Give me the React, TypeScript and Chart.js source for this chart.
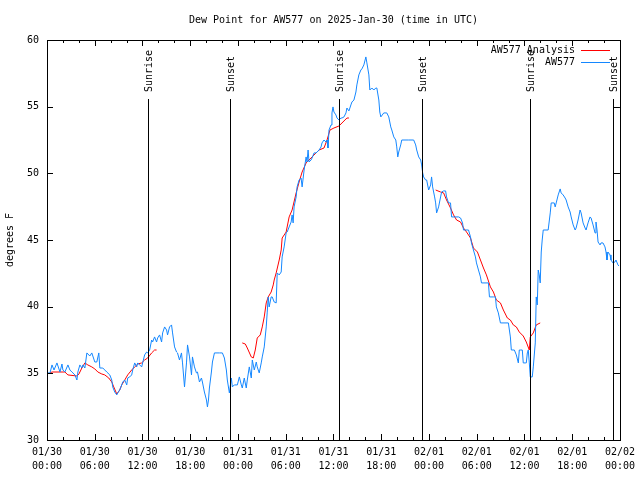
import React, { useEffect, useRef } from "react";
import { Chart, registerables } from "chart.js";

Chart.register(...registerables);

const TITLE = "Dew Point for AW577 on 2025-Jan-30 (time in UTC)";
const Y_LABEL = "degrees F";
const SERIES_ANALYSIS = "AW577 Analysis";
const SERIES_OBS = "AW577";

// hours since 2025-01-30 00:00 UTC
const OBS_HOURS = [
  0, 0.38, 0.63, 0.88, 1.25, 1.63, 1.88, 2.0, 2.25, 2.63, 2.88, 3.13, 3.51, 3.76, 3.88, 4.13, 4.38, 4.51, 4.76, 5.01,
  5.38, 5.63, 6.01, 6.26, 6.51, 6.64, 7.01, 7.51, 7.89, 8.14, 8.26, 8.51, 8.77, 8.89, 9.14, 9.39, 9.52, 9.77, 10.02, 10.14,
  10.39, 10.64, 10.77, 11.02, 11.27, 11.4, 11.65, 11.9, 12.02, 12.27, 12.52, 12.65, 12.9, 13.15, 13.27, 13.52, 13.77, 13.9, 14.15, 14.4,
  14.53, 14.78, 15.03, 15.15, 15.4, 15.65, 15.78, 16.03, 16.28, 16.4, 16.65, 16.9, 17.03, 17.28, 17.53, 17.66, 17.91, 18.16, 18.28, 18.53,
  18.78, 18.91, 19.16, 19.41, 19.53, 19.78, 20.04, 20.16, 20.29, 20.41, 20.66, 20.79, 21.04, 21.66, 22.04, 22.29, 22.54, 22.66, 22.92, 23.17,
  23.29, 23.54, 23.92, 24.17, 24.42, 24.54, 24.79, 25.04, 25.17, 25.42, 25.67, 25.8, 26.05, 26.3, 26.42, 26.67, 26.92, 27.05, 27.3, 27.55,
  27.67, 27.8, 27.92, 28.17, 28.3, 28.55, 28.8, 28.93, 29.18, 29.43, 29.55, 29.8, 30.05, 30.18, 30.43, 30.68, 30.8, 30.93, 31.05, 31.31,
  31.43, 31.68, 31.93, 32.06, 32.31, 32.56, 32.68, 32.81, 32.93, 33.18, 33.31, 33.56, 33.81, 33.93, 34.19, 34.44, 34.56, 34.81, 35.06, 35.19,
  35.31, 35.44, 35.69, 35.81, 35.94, 36.06, 36.31, 36.44, 36.69, 36.94, 37.07, 37.32, 37.57, 37.69, 37.94, 38.19, 38.32, 38.57, 38.82, 38.94,
  39.19, 39.44, 39.57, 39.82, 40.07, 40.2, 40.45, 40.57, 40.82, 41.07, 41.32, 41.45, 41.7, 41.82, 41.95, 42.32, 42.7, 42.95, 43.2, 43.33,
  43.58, 43.83, 43.95, 44.08, 44.2, 44.45, 44.58, 45.45, 46.08, 46.33, 46.46, 46.71, 46.96, 47.08, 47.21, 47.33, 47.58, 47.71, 47.96, 48.21,
  48.33, 48.46, 48.71, 48.84, 48.96, 49.21, 49.46, 49.59, 49.84, 50.09, 50.21, 50.46, 50.71, 50.84, 51.72, 51.97, 52.22, 52.34, 52.97, 53.22,
  53.34, 53.59, 53.84, 53.97, 54.22, 54.47, 54.6, 55.47, 55.6, 56.1, 56.35, 56.47, 56.6, 56.72, 56.98, 57.98, 58.23, 58.35, 58.73, 58.98,
  59.23, 59.35, 59.48, 59.73, 59.85, 60.11, 60.23, 60.36, 60.48, 60.61, 60.73, 60.98, 61.11, 61.36, 61.48, 61.61, 61.73, 61.86, 61.98, 62.11,
  62.23, 62.36, 62.98, 63.24, 63.36, 63.74, 63.86, 63.99, 64.24, 64.49, 64.61, 64.86, 65.11, 65.24, 65.49, 65.74, 65.87, 66.12, 66.37, 66.49,
  66.74, 66.99, 67.12, 67.37, 67.62, 67.74, 67.99, 68.24, 68.37, 68.62, 68.87, 68.99, 69.12, 69.25, 69.5, 69.62, 69.87, 70.12, 70.25, 70.37,
  70.5, 70.75, 70.87, 71.12, 71.37, 71.5, 71.75, 71.87,
];

const OBS_DEW = [
  35.03, 35.03, 35.63, 35.25, 35.78, 35.1, 35.7, 35.25, 35.1, 35.63, 35.25, 35.1, 34.88, 34.5, 35.1, 35.63, 35.4, 35.63, 35.4, 36.53,
  36.3, 36.53, 35.85, 35.85, 36.53, 35.4, 35.4, 35.1, 34.88, 34.5, 33.98, 33.6, 33.38, 33.53, 33.75, 34.13, 34.35, 34.5, 34.13, 34.65,
  34.73, 34.88, 35.25, 35.78, 35.48, 35.78, 35.63, 35.48, 35.78, 36.38, 36.6, 36.53, 36.75, 37.5, 37.35, 37.73, 37.35, 37.65, 37.88, 37.35,
  38.03, 38.48, 38.25, 37.88, 38.48, 38.63, 38.03, 36.98, 36.6, 36.53, 36.0, 36.53, 35.78, 33.98, 35.78, 37.13, 36.23, 34.88, 36.23, 35.48,
  35.03, 35.1, 34.35, 34.65, 34.35, 33.6, 33.0, 32.48, 33.0, 33.9, 35.1, 35.85, 36.53, 36.53, 36.53, 36.15, 35.25, 34.5, 33.53, 34.65,
  33.98, 34.13, 34.13, 34.73, 34.13, 33.9, 34.65, 33.9, 34.5, 35.48, 34.65, 36.0, 35.25, 35.85, 35.48, 35.03, 35.78, 36.23, 36.98, 38.48,
  39.53, 40.73, 39.98, 40.73, 40.73, 40.35, 40.28, 42.53, 42.38, 42.6, 43.73, 44.48, 45.53, 45.6, 45.98, 46.35, 46.88, 46.28, 47.48, 48.23,
  48.98, 49.5, 49.65, 48.98, 50.25, 51.23, 50.85, 51.75, 50.85, 51.0, 51.15, 51.53, 51.53, 51.6, 51.75, 51.98, 52.28, 52.5, 52.35, 52.5,
  51.9, 53.25, 53.63, 54.53, 54.98, 54.6, 54.38, 54.15, 54.0, 54.15, 54.15, 54.23, 54.53, 54.9, 54.68, 55.13, 55.35, 55.5, 56.1, 56.63,
  57.38, 57.75, 57.83, 58.13, 58.73, 58.28, 57.38, 56.25, 56.4, 56.25, 56.4, 56.4, 55.5, 54.6, 54.23, 54.53, 54.53, 54.23, 53.48, 53.25,
  52.73, 52.5, 51.98, 51.23, 51.6, 52.13, 52.5, 52.5, 52.5, 52.13, 51.75, 51.23, 51.0, 50.63, 50.03, 49.73, 49.5, 49.5, 48.75, 49.13,
  49.73, 48.98, 48.23, 47.78, 47.03, 47.48, 48.23, 48.6, 48.68, 48.68, 48.23, 47.78, 47.78, 46.73, 46.73, 46.65, 46.28, 45.75, 45.75, 45.23,
  44.78, 44.25, 43.73, 43.28, 42.75, 42.23, 41.78, 41.78, 40.73, 40.73, 40.73, 39.98, 39.75, 39.53, 38.78, 38.78, 37.73, 36.75, 36.75, 36.38,
  35.78, 36.75, 36.75, 36.75, 35.78, 35.78, 35.78, 36.53, 36.75, 35.78, 34.73, 34.73, 35.48, 37.28, 40.73, 40.13, 42.75, 42.38, 41.78, 44.1,
  45.0, 45.75, 45.75, 47.03, 47.78, 47.78, 47.48, 47.78, 48.38, 48.83, 48.53, 48.38, 48.15, 48.0, 47.48, 47.1, 46.73, 46.13, 45.75, 45.9,
  46.5, 47.25, 47.03, 46.28, 45.9, 45.75, 46.28, 46.73, 46.65, 46.13, 45.53, 46.35, 45.75, 44.85, 44.63, 44.78, 44.78, 44.48, 44.1, 43.5,
  44.1, 43.88, 43.5, 43.28, 43.35, 43.5, 43.13, 43.05,
];

// null entries break the analysis line into its separate runs
const ANALYSIS_HOURS = [
  0.38, 0.63, 1.63, 2.25, 2.63, 3.76, 4.01, 4.38, 4.76, 5.13, 5.63, 6.01, 6.39, 6.89, 7.26, 7.76, 8.14, 8.39, 8.77, 9.14,
  9.39, 9.77, 10.14, 10.64, 11.02, 11.4, 11.9, 12.27, 12.65, 13.15, 13.52, 13.77,
  19.0,
  24.54, 24.92, 25.17, 25.67, 25.92, 26.17, 26.42, 26.8, 27.05, 27.3, 27.55, 27.8, 28.17, 28.43, 28.55, 28.8, 29.18, 29.43, 29.55, 30.05,
  30.43, 30.8, 31.31, 31.68, 32.06, 32.56, 32.93, 33.31, 33.81, 34.19, 34.81, 35.19, 35.56, 36.06, 36.69, 37.19, 37.69, 37.94,
  43.0,
  48.84, 49.46, 49.84, 50.21, 50.71, 51.09, 51.47, 51.97, 52.34, 52.72, 53.22, 53.59, 54.09, 54.47, 54.85, 55.22, 55.72, 56.1, 56.47, 56.98,
  57.35, 57.85, 58.23, 58.6, 58.98, 59.35, 59.85, 60.23, 60.61, 60.73, 61.11, 61.48, 61.98,
];

const ANALYSIS_DEW = [
  35.03, 35.1, 35.1, 35.1, 34.88, 34.8, 34.95, 35.4, 35.78, 35.63, 35.48, 35.33, 35.1, 34.95, 34.88, 34.65, 34.35, 33.98, 33.45, 33.75,
  34.13, 34.5, 34.88, 35.25, 35.48, 35.7, 35.78, 36.0, 36.15, 36.53, 36.75, 36.75,
  null,
  37.28, 37.2, 36.9, 36.23, 36.15, 36.75, 37.65, 37.88, 38.48, 39.23, 40.28, 40.73, 41.1, 41.63, 42.0, 42.53, 43.5, 44.25, 45.15, 45.6,
  46.73, 47.25, 48.53, 49.35, 50.1, 50.78, 51.0, 51.23, 51.53, 51.75, 51.9, 52.5, 53.25, 53.4, 53.55, 53.85, 54.15, 54.15,
  null,
  48.75, 48.6, 48.53, 48.0, 47.4, 46.88, 46.5, 46.35, 45.9, 45.6, 45.15, 44.4, 44.1, 43.5, 42.9, 42.38, 41.48, 41.1, 40.5, 40.28,
  39.75, 39.15, 39.0, 38.63, 38.48, 38.1, 37.8, 37.35, 36.75, 37.73, 38.03, 38.63, 38.78,
];

const SUN_EVENT_HOURS = [12.67, 23.05, 36.64, 47.09, 60.75, 71.16];
const SUN_EVENT_LABELS = ["Sunrise", "Sunset", "Sunrise", "Sunset", "Sunrise", "Sunset"];

const FONT = "'DejaVu Sans Mono', 'Liberation Mono', monospace";
const RED = "#ff0000";
const BLUE = "#1487ff";

function pad2(n: number) {
  return n < 10 ? "0" + n : String(n);
}

const overlayPlugin = {
  id: "gnuplotOverlay",
  afterDatasetsDraw(chart: any) {
    const ctx = chart.ctx as CanvasRenderingContext2D;
    const { left, right, top, bottom } = chart.chartArea;
    const xs = chart.scales.x;
    const ys = chart.scales.y;
    ctx.save();
    ctx.strokeStyle = "#000";
    ctx.lineWidth = 1;

    // sunrise / sunset markers
    ctx.fillStyle = "#000";
    ctx.font = "10px " + FONT;
    SUN_EVENT_HOURS.forEach((h, i) => {
      const px = Math.round(xs.getPixelForValue(h)) + 0.5;
      ctx.beginPath();
      ctx.moveTo(px, 99);
      ctx.lineTo(px, bottom);
      ctx.stroke();
      ctx.save();
      ctx.translate(px + 0.5, 92);
      ctx.rotate(-Math.PI / 2);
      ctx.textAlign = "left";
      ctx.textBaseline = "middle";
      ctx.fillText(SUN_EVENT_LABELS[i], 0, 0);
      ctx.restore();
    });

    // frame
    ctx.strokeRect(Math.round(left) + 0.5, Math.round(top) + 0.5, Math.round(right - left), Math.round(bottom - top));

    // inward ticks
    ctx.beginPath();
    for (let h = 0; h <= 72; h += 2) {
      const px = Math.round(xs.getPixelForValue(h)) + 0.5;
      const len = h % 6 === 0 ? 6 : 3;
      ctx.moveTo(px, bottom);
      ctx.lineTo(px, bottom - len);
      ctx.moveTo(px, top);
      ctx.lineTo(px, top + len);
    }
    for (let v = 30; v <= 60; v += 5) {
      const py = Math.round(ys.getPixelForValue(v)) + 0.5;
      ctx.moveTo(left, py);
      ctx.lineTo(left + 6, py);
      ctx.moveTo(right, py);
      ctx.lineTo(right - 6, py);
    }
    ctx.stroke();

    // title
    ctx.textAlign = "center";
    ctx.textBaseline = "middle";
    ctx.fillText(TITLE, (left + right) / 2, 20);

    // y axis label
    ctx.save();
    ctx.translate(10, (top + bottom) / 2);
    ctx.rotate(-Math.PI / 2);
    ctx.fillText(Y_LABEL, 0, 0);
    ctx.restore();

    // legend
    ctx.textAlign = "right";
    ctx.fillText(SERIES_ANALYSIS, 575, 50);
    ctx.fillText(SERIES_OBS, 575, 62);
    ctx.strokeStyle = RED;
    ctx.beginPath();
    ctx.moveTo(581, 50.5);
    ctx.lineTo(610, 50.5);
    ctx.stroke();
    ctx.strokeStyle = BLUE;
    ctx.beginPath();
    ctx.moveTo(581, 62.5);
    ctx.lineTo(610, 62.5);
    ctx.stroke();

    ctx.restore();
  },
};

export default function App() {
  const canvasRef = useRef<HTMLCanvasElement | null>(null);

  useEffect(() => {
    if (!canvasRef.current) return;
    const obs = OBS_HOURS.map((h, i) => ({ x: h, y: OBS_DEW[i] }));
    const ana = ANALYSIS_HOURS.map((h, i) => ({ x: h, y: ANALYSIS_DEW[i] }));
    const chart = new Chart(canvasRef.current, {
      type: "line",
      data: {
        datasets: [
          {
            label: SERIES_ANALYSIS,
            data: ana as any,
            borderColor: RED,
            borderWidth: 1,
            pointRadius: 0,
            tension: 0,
            spanGaps: false,
            order: 2,
          },
          {
            label: SERIES_OBS,
            data: obs as any,
            borderColor: BLUE,
            borderWidth: 1,
            pointRadius: 0,
            tension: 0,
            order: 1,
          },
        ],
      },
      options: {
        animation: false,
        responsive: false,
        devicePixelRatio: 1,
        layout: { padding: { left: 0, right: 19, top: 40, bottom: 0 } },
        plugins: {
          legend: { display: false },
          title: { display: false },
          tooltip: { enabled: false },
        },
        events: [],
        scales: {
          x: {
            type: "linear",
            min: 0,
            max: 72,
            grid: { display: false, drawTicks: false },
            border: { display: false },
            afterFit: (s: any) => {
              s.height = 40;
            },
            ticks: {
              stepSize: 6,
              autoSkip: false,
              maxRotation: 0,
              minRotation: 0,
              padding: 5,
              color: "#000",
              font: { family: FONT, size: 10, lineHeight: 1.4 },
              callback: (value: any) => {
                const d = new Date(Date.UTC(2025, 0, 30) + Number(value) * 3600e3);
                return [
                  pad2(d.getUTCMonth() + 1) + "/" + pad2(d.getUTCDate()),
                  pad2(d.getUTCHours()) + ":" + pad2(d.getUTCMinutes()),
                ];
              },
            },
          },
          y: {
            type: "linear",
            min: 30,
            max: 60,
            grid: { display: false, drawTicks: false },
            border: { display: false },
            afterFit: (s: any) => {
              s.width = 47;
            },
            ticks: {
              stepSize: 5,
              padding: 8,
              color: "#000",
              font: { family: FONT, size: 10 },
            },
          },
        },
      },
      plugins: [overlayPlugin],
    });
    return () => chart.destroy();
  }, []);

  return (
    <div style={{ position: "fixed", left: 0, top: 0, width: 640, height: 480, background: "#fff" }}>
      <canvas ref={canvasRef} width={640} height={480} style={{ display: "block" }} />
    </div>
  );
}
